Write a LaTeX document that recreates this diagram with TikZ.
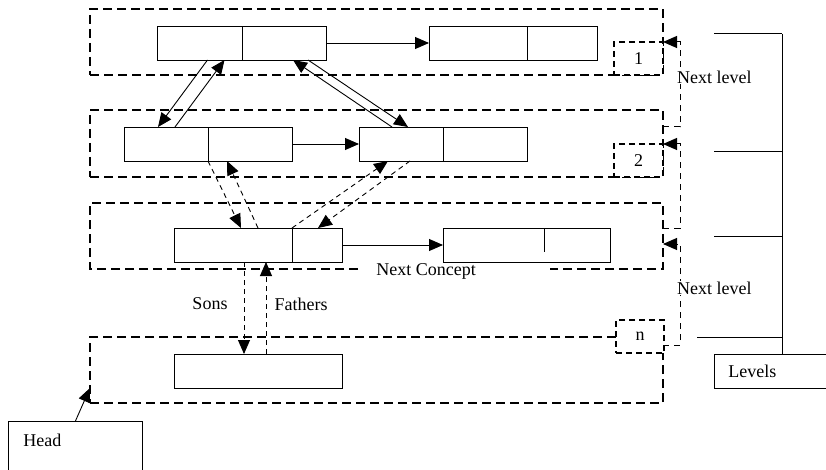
\documentclass[tikz,border=0pt]{standalone}
\usepackage{fontspec}
\setmainfont{Liberation Serif}
\usetikzlibrary{positioning, arrows.meta}

\begin{document}
\begin{tikzpicture}[x=1pt, y=-1pt, >={Triangle[length=14pt,width=12pt]},
    font=\fontsize{18}{21}\selectfont,
    cell/.style={draw, line width=0.9pt, minimum height=34pt, inner sep=0pt, outer sep=0pt},
    lvlbox/.style={draw, line width=1.8pt, dash pattern=on 9pt off 5pt, anchor=north west,
        minimum width=573pt, inner sep=0pt, outer sep=0pt},
    lvlline/.style={line width=1.8pt, dash pattern=on 9pt off 5pt},
    numbox/.style={draw, fill=white, line width=1.3pt, dash pattern=on 6pt off 4pt, anchor=north west,
        minimum width=49pt, minimum height=33pt, inner sep=0pt, outer sep=0pt},
    link/.style={->, line width=0.9pt},
    dlink/.style={->, line width=0.9pt, dash pattern=on 5pt off 4pt},
    nextlvl/.style={->, line width=1pt, dash pattern=on 6pt off 5pt},
    lbl/.style={fill=white, inner sep=1pt}]
    \useasboundingbox (0,0) rectangle (826,470);

    % Levels
    \node[lvlbox, minimum height=66pt] (L1) at (90,9) {};
    \node[lvlbox, minimum height=67pt] (L2) at (90,110) {};
    \node[lvlbox, draw=none, minimum height=66pt] (L3) at (90,203) {};
    \draw[lvlline] ([xshift=268pt]L3.south west) -| (L3.north west) -| (L3.south east)
        -- ([xshift=460pt]L3.south west);
    \node[lvlbox, minimum height=66pt] (Ln) at (90,337) {};

    \node[numbox] (N1) at (614,42) {1};
    \node[numbox] (N2) at (614,144) {2};
    \node[numbox, minimum width=48pt] (Nn) at (616,320) {n};

    % Concepts
    \node[cell, minimum width=85pt, anchor=north west] (A1) at (157,26) {};
    \node[cell, minimum width=84pt, right=0pt of A1] (A2) {};
    \node[cell, minimum width=98pt, anchor=north west] (B1) at (429,26) {};
    \node[cell, minimum width=70pt, right=0pt of B1] (B2) {};

    \node[cell, minimum width=84pt, anchor=north west] (C1) at (124,127) {};
    \node[cell, minimum width=84pt, right=0pt of C1] (C2) {};
    \node[cell, minimum width=84pt, anchor=north west] (D1) at (359,127) {};
    \node[cell, minimum width=84pt, right=0pt of D1] (D2) {};

    \node[cell, minimum width=118pt, anchor=north west] (E1) at (174,228) {};
    \node[cell, minimum width=50pt, right=0pt of E1] (E2) {};
    \node[cell, minimum width=167pt, anchor=north west] (F) at (443,228) {};
    \draw[line width=0.9pt] ([xshift=101pt]F.north west) -- ++(0,24);

    \node[cell, minimum width=168pt, anchor=north west] (G) at (174,354) {};

    % Next concept
    \draw[link] (A2) -- (B1);
    \draw[link] (C2) -- (D1);
    \draw[link] (E2) -- (F);
    \node (NC) at (426,271) {Next Concept};

    % Sons and fathers
    \draw[link] ([xshift=8pt]A1.south) -- ([xshift=-8pt]C1.north);
    \draw[link] ([xshift=9pt]C1.north) -- ([xshift=25pt]A1.south);
    \draw[link] ([xshift=24pt]A2.south) -- ([xshift=7pt]D1.north);
    \draw[link] ([xshift=-9pt]D1.north) -- ([xshift=9pt]A2.south);

    \draw[dlink] (C1.south east) -- ([xshift=8pt]E1.north);
    \draw[dlink] ([xshift=25pt]E1.north) -- ([xshift=-23pt]C2.south);
    \draw[dlink] ([xshift=9pt]D1.south) -- ([xshift=1pt]E2.north);
    \draw[dlink] (E1.north east) -- ([xshift=-13pt]D1.south);

    \draw[dlink] ([xshift=11pt]E1.south) -- ([xshift=-14pt]G.north);
    \draw[dlink] ([xshift=8pt]G.north) -- ([xshift=33pt]E1.south);
    \node (sons) at (210,304) {Sons};
    \node (fathers) at (301,304) {Fathers};

    % Next level
    \draw[nextlvl] ([yshift=16.5pt]L2.east) -- ++(17,0) |- (N1.north east);
    \draw[nextlvl] ([yshift=8pt]L3.east) -- ++(17,0) |- (N2.north east);
    \draw[nextlvl] ([yshift=25pt]Ln.east) -- ++(17,0) |- ([yshift=-8pt]L3.east);
    \node[lbl, anchor=west] (NL1) at (676,77) {Next level};
    \node[lbl, anchor=west] (NL2) at (676,288) {Next level};

    % Levels list
    \node[draw, line width=0.9pt, anchor=north west, text width=92pt, inner xsep=14pt, inner ysep=0pt,
        minimum height=34pt, align=left] (Lv) at (714,354) {Levels};
    \draw[line width=1pt] (782,34) -- (782,0 |- Lv.north);
    \foreach \y in {34,152,236}
        \draw[line width=1pt] (714,\y) -- (782,\y);
    \draw[line width=1pt] (697,337) -- (782,337);

    % Head
    \node[draw, line width=0.9pt, anchor=north west, text width=104pt, inner xsep=15pt, inner ysep=12pt,
        text height=13pt, text depth=40pt, align=left] (Head) at (8,421) {Head};
    \draw[link] (Head.north) -- ([yshift=15pt]Ln.south west);
\end{tikzpicture}
\end{document}
